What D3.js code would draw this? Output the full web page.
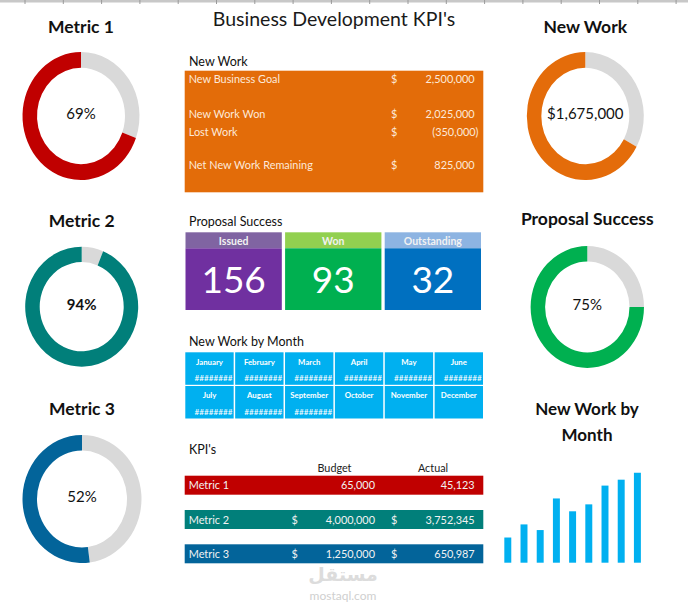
<!DOCTYPE html>
<html>
<head>
<meta charset="utf-8">
<script src="https://cdn.jsdelivr.net/npm/d3@7"></script>
<style>
  body { margin: 0; background: #fff; }
  svg { display: block; font-family: Lato, "Open Sans", sans-serif; }
</style>
</head>
<body>
<div id="chart"></div>
<script>
// ---- data ----
const newWorkLabels = ["New Business Goal", "New Work Won", "Lost Work", "Net New Work Remaining"];
const newWorkValues = [2500000, 2025000, -350000, 825000];

const proposalLabels = ["Issued", "Won", "Outstanding"];
const proposalValues = [156, 93, 32];

const months = ["January", "February", "March", "April", "May", "June",
                "July", "August", "September", "October", "November", "December"];
const monthValues = [98000, 149000, 127000, 250000, 200000, 227000, 300000, 323000, 350000];

const kpiNames = ["Metric 1", "Metric 2", "Metric 3"];
const kpiBudget = [65000, 4000000, 1250000];
const kpiActual = [45123, 3752345, 650987];
const kpiDollar = [false, true, true];

const width = 688, height = 612;

const svg = d3.select("#chart").append("svg")
    .attr("width", width)
    .attr("height", height);

// excel grid strip at the very top
svg.append("rect")
    .attr("x", 0).attr("y", 0)
    .attr("width", width).attr("height", 2.5)
    .attr("fill", "#c8c8c8");
d3.range(25, width, 38.3).forEach(x => {
    svg.append("line")
        .attr("x1", x).attr("x2", x)
        .attr("y1", 0).attr("y2", 4)
        .attr("stroke", "#9a9a9a").attr("stroke-width", 1);
});

const fmt = d3.format(",");
const acct = v => v < 0 ? "(" + fmt(-v) + ")" : fmt(v);

// title
svg.append("text")
    .attr("x", 334).attr("y", 25.5)
    .attr("text-anchor", "middle")
    .attr("font-size", 19.5)
    .attr("fill", "#1a1a1a")
    .text("Business Development KPI's");

// ---- donuts ----
const wonTotal = newWorkValues[1] + newWorkValues[2];
const donuts = [
    {title: "Metric 1", pct: kpiActual[0] / kpiBudget[0], color: "#c00000", cx: 81, cy: 116, rx: 58.5, ry: 64, ty: 33, bold: false},
    {title: "Metric 2", pct: kpiActual[1] / kpiBudget[1], color: "#017f7a", cx: 81.7, cy: 306.7, rx: 56.5, ry: 60, ty: 226.5, bold: true},
    {title: "Metric 3", pct: kpiActual[2] / kpiBudget[2], color: "#03649a", cx: 82, cy: 499, rx: 59.5, ry: 64, ty: 415, bold: false},
    {title: "New Work", pct: wonTotal / newWorkValues[0], label: "$" + fmt(wonTotal), color: "#e46c0a", cx: 585.3, cy: 116, rx: 58.5, ry: 64, ty: 32.7, bold: false},
    {title: "Proposal Success", pct: proposalValues[1] / (proposalValues[0] - proposalValues[2]), color: "#00b050", cx: 587.3, cy: 307, rx: 56.7, ry: 61, ty: 225, bold: false}
];

const pie = d3.pie().sort(null).value(d => d);

donuts.forEach(d => {
    svg.append("text")
        .attr("x", d.cx).attr("y", d.ty)
        .attr("text-anchor", "middle")
        .attr("font-size", 17.5)
        .attr("font-weight", "bold")
        .attr("fill", "#111")
        .text(d.title);

    const arc = d3.arc().innerRadius(d.rx - 14.5).outerRadius(d.rx);
    const g = svg.append("g")
        .attr("transform", `translate(${d.cx},${d.cy}) scale(1,${d.ry / d.rx})`);
    g.selectAll("path")
        .data(pie([1 - d.pct, d.pct]))
        .enter().append("path")
        .attr("d", arc)
        .attr("fill", (p, i) => i === 0 ? "#d9d9d9" : d.color);

    svg.append("text")
        .attr("x", d.cx).attr("y", d.cy + 3)
        .attr("text-anchor", "middle")
        .attr("font-size", 15)
        .attr("font-weight", d.bold ? "bold" : "normal")
        .attr("fill", "#111")
        .text(d.label || d3.format(".0%")(d.pct));
});

// section labels
const sectionLabel = (txt, y) => svg.append("text")
    .attr("x", 189).attr("y", y)
    .attr("font-size", 12.5)
    .attr("fill", "#111")
    .text(txt);

// ---- New Work table ----
sectionLabel("New Work", 65.5);
svg.append("rect")
    .attr("x", 184.7).attr("y", 70.7)
    .attr("width", 298.6).attr("height", 121.6)
    .attr("fill", "#e36c09");
const nwRows = [83.3, 118.3, 135.7, 169.3];
newWorkLabels.forEach((lab, i) => {
    svg.append("text")
        .attr("x", 188.7).attr("y", nwRows[i])
        .attr("font-size", 10.9).attr("fill", "#fde9d9")
        .text(lab);
    svg.append("text")
        .attr("x", 391).attr("y", nwRows[i])
        .attr("font-size", 10.9).attr("fill", "#fde9d9")
        .text("$");
    svg.append("text")
        .attr("x", newWorkValues[i] < 0 ? 478.5 : 474.7).attr("y", nwRows[i])
        .attr("text-anchor", "end")
        .attr("font-size", 10.9).attr("fill", "#fde9d9")
        .text(acct(newWorkValues[i]));
});

// ---- Proposal Success tiles ----
sectionLabel("Proposal Success", 226);
const tileX = d3.scaleBand().domain(proposalLabels).range([185.5, 481]).paddingInner(0.033);
const tileHead = ["#8064a2", "#92d050", "#8db4e2"];
const tileBody = ["#7030a0", "#00b050", "#0070c0"];
proposalLabels.forEach((lab, i) => {
    const x = tileX(lab), w = tileX.bandwidth();
    svg.append("rect").attr("x", x).attr("y", 232.3).attr("width", w).attr("height", 16).attr("fill", tileHead[i]);
    svg.append("rect").attr("x", x).attr("y", 248.3).attr("width", w).attr("height", 61.7).attr("fill", tileBody[i]);
    svg.append("text")
        .attr("x", x + w / 2).attr("y", 245)
        .attr("text-anchor", "middle")
        .attr("font-size", 10.5).attr("font-weight", "bold")
        .attr("fill", "#f2f2f2")
        .text(lab);
    svg.append("text")
        .attr("x", x + w / 2).attr("y", 293)
        .attr("text-anchor", "middle")
        .attr("font-size", 37)
        .attr("fill", "#fff")
        .text(proposalValues[i]);
});

// ---- New Work by Month grid ----
sectionLabel("New Work by Month", 346);
const colX = d3.scaleBand().domain(d3.range(6)).range([185.3, 483]).paddingInner(0.03);
const rowY = [352.3, 386];
months.forEach((m, i) => {
    const c = i % 6, r = Math.floor(i / 6);
    const x = colX(c), w = colX.bandwidth(), y = rowY[r];
    svg.append("rect").attr("x", x).attr("y", y).attr("width", w).attr("height", 32.5).attr("fill", "#00b0f0");
    svg.append("text")
        .attr("x", x + w / 2).attr("y", y + 12.3)
        .attr("text-anchor", "middle")
        .attr("font-size", 7.8).attr("font-weight", "bold")
        .attr("fill", "#fff")
        .text(m);
    if (i < monthValues.length) {
        svg.append("text")
            .attr("x", x + w - 1.2).attr("y", y + 29)
            .attr("text-anchor", "end")
            .attr("font-size", 8.2)
            .attr("fill", "#fff")
            .text("########");
    }
});

// ---- KPI table ----
sectionLabel("KPI's", 454);
svg.append("text").attr("x", 334.5).attr("y", 472).attr("text-anchor", "middle")
    .attr("font-size", 10.8).attr("fill", "#222").text("Budget");
svg.append("text").attr("x", 433).attr("y", 472).attr("text-anchor", "middle")
    .attr("font-size", 10.8).attr("fill", "#222").text("Actual");
const kpiColors = ["#c00000", "#017f7a", "#03649a"];
const kpiTop = [475.7, 510, 544.3];
kpiNames.forEach((n, i) => {
    const y = kpiTop[i];
    svg.append("rect").attr("x", 184.7).attr("y", y).attr("width", 298.6).attr("height", 19).attr("fill", kpiColors[i]);
    const base = y + 13.6;
    const t = (x, s, anchor) => svg.append("text")
        .attr("x", x).attr("y", base)
        .attr("text-anchor", anchor)
        .attr("font-size", 10.9).attr("fill", "#f2f2f2")
        .text(s);
    t(188.7, n, "start");
    if (kpiDollar[i]) { t(291.5, "$", "start"); t(391, "$", "start"); }
    t(375, fmt(kpiBudget[i]), "end");
    t(474.7, fmt(kpiActual[i]), "end");
});

// ---- New Work by Month bar chart ----
svg.append("text").attr("x", 587).attr("y", 415).attr("text-anchor", "middle")
    .attr("font-size", 17).attr("font-weight", "bold").attr("fill", "#111").text("New Work by");
svg.append("text").attr("x", 587).attr("y", 440.7).attr("text-anchor", "middle")
    .attr("font-size", 17).attr("font-weight", "bold").attr("fill", "#111").text("Month");

const bx = d3.scaleBand()
    .domain(months.slice(0, monthValues.length))
    .range([499.7, 645.5])
    .paddingInner(0.57)
    .paddingOuter(0.285);
const by = d3.scaleLinear().domain([0, 400000]).range([562.7, 459.9]);
svg.selectAll(".bar")
    .data(monthValues)
    .enter().append("rect")
    .attr("class", "bar")
    .attr("x", (v, i) => bx(months[i]))
    .attr("y", v => by(v))
    .attr("width", bx.bandwidth())
    .attr("height", v => by(0) - by(v))
    .attr("fill", "#00b0f0");

// watermark
svg.append("text").attr("x", 343).attr("y", 581).attr("text-anchor", "middle")
    .attr("font-family", "DejaVu Sans").attr("font-size", 19).attr("font-weight", "bold")
    .attr("fill", "#dcdcdc").text("مستقل");
svg.append("text").attr("x", 343).attr("y", 600).attr("text-anchor", "middle")
    .attr("font-size", 12).attr("fill", "#cfcfcf").text("mostaql.com");
</script>
</body>
</html>
